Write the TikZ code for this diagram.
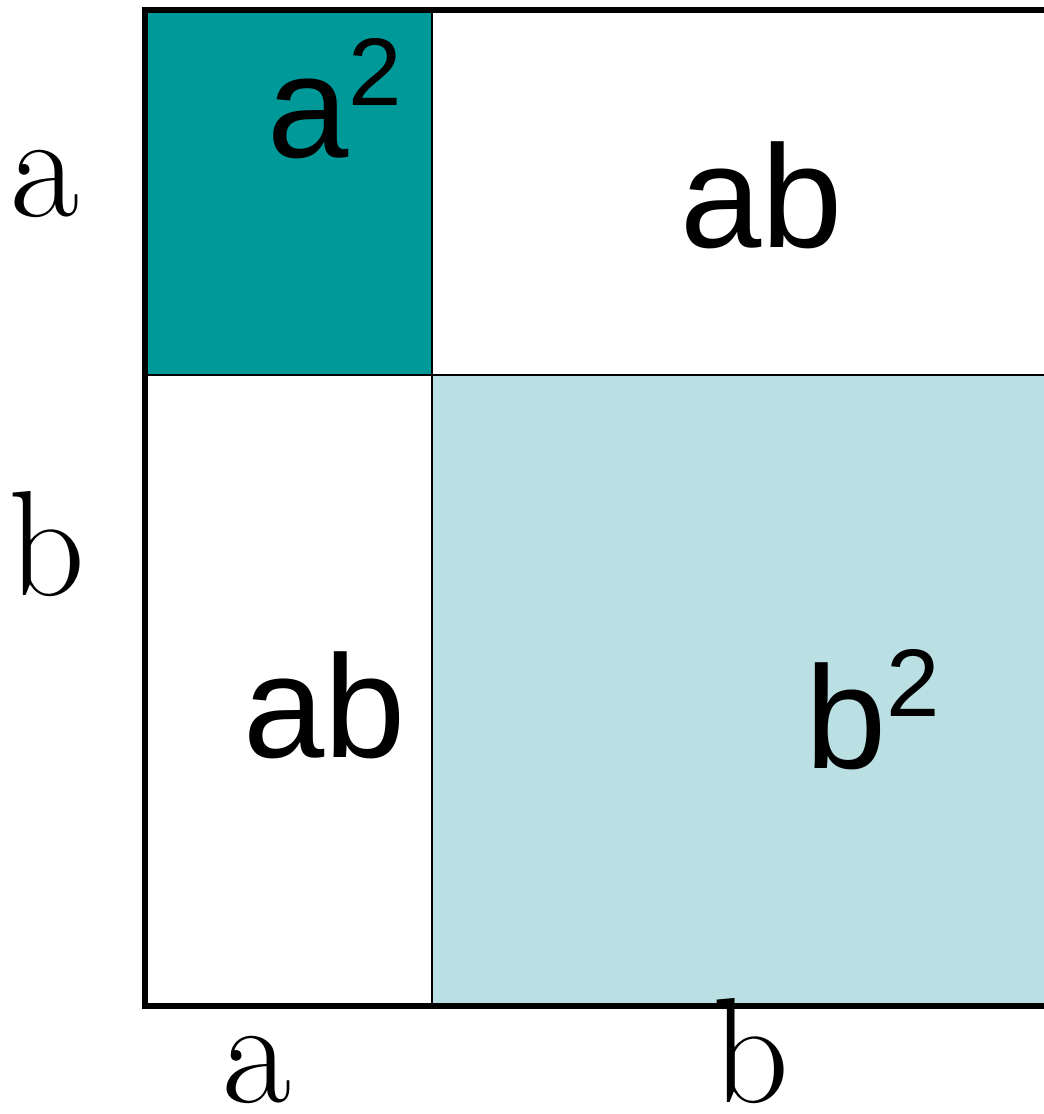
\documentclass[tikz,border=0pt]{standalone}
\usepackage{fontspec}
\newfontfamily\areafont{Liberation Sans}
\definecolor{SqTeal}{HTML}{009999}
\definecolor{SqPale}{HTML}{BBE0E3}
\newcommand{\sqrd}{\raisebox{52pt}{\fontsize{96}{96}\selectfont 2}}

\begin{document}
\begin{tikzpicture}[
    x=1pt, y=-1pt,
    side/.style={font=\rmfamily\fontsize{150}{150}\selectfont\addfontfeature{FakeBold=2.5},
                 inner sep=0pt, anchor=base west},
    area/.style={font=\areafont\fontsize{146}{146}\selectfont, inner sep=0pt, anchor=base west},
    frame/.style={line width=6pt, line join=miter},
    divider/.style={line width=2.5pt}
  ]
  \useasboundingbox (0,0) rectangle (1044,1114);
  \clip (0,0) rectangle (1044,1114);

  % corners of the big square and the split point
  \coordinate (tl) at (144.5,10);
  \coordinate (bl) at (144.5,1006);
  \coordinate (tr) at (1064,10);
  \coordinate (br) at (1064,1006);
  \coordinate (mid) at (432,375);

  \fill[SqTeal] (tl) rectangle (mid);
  \fill[SqPale] (mid) rectangle (br);

  \draw[divider] (mid |- tl) -- (mid |- bl);
  \draw[divider] (mid -| tl) -- (mid -| tr);
  \draw[frame] (tr) -- (tl) -- (bl) -- (br);

  % areas
  \node[area] (asq) at (267,157) {a\sqrd};
  \node[area] (abtop) at (680,247) {ab};
  \node[area] (abbot) at (243,757) {ab};
  \node[area] (bsq) at (805,768) {b\sqrd};

  % side lengths
  \node[side] (lefta) at (10,216) {a};
  \node[side] (leftb) at (8,595) {b};
  \node[side] (bota) at (222,1102) {a};
  \node[side] (botb) at (712,1102) {b};
\end{tikzpicture}
\end{document}
